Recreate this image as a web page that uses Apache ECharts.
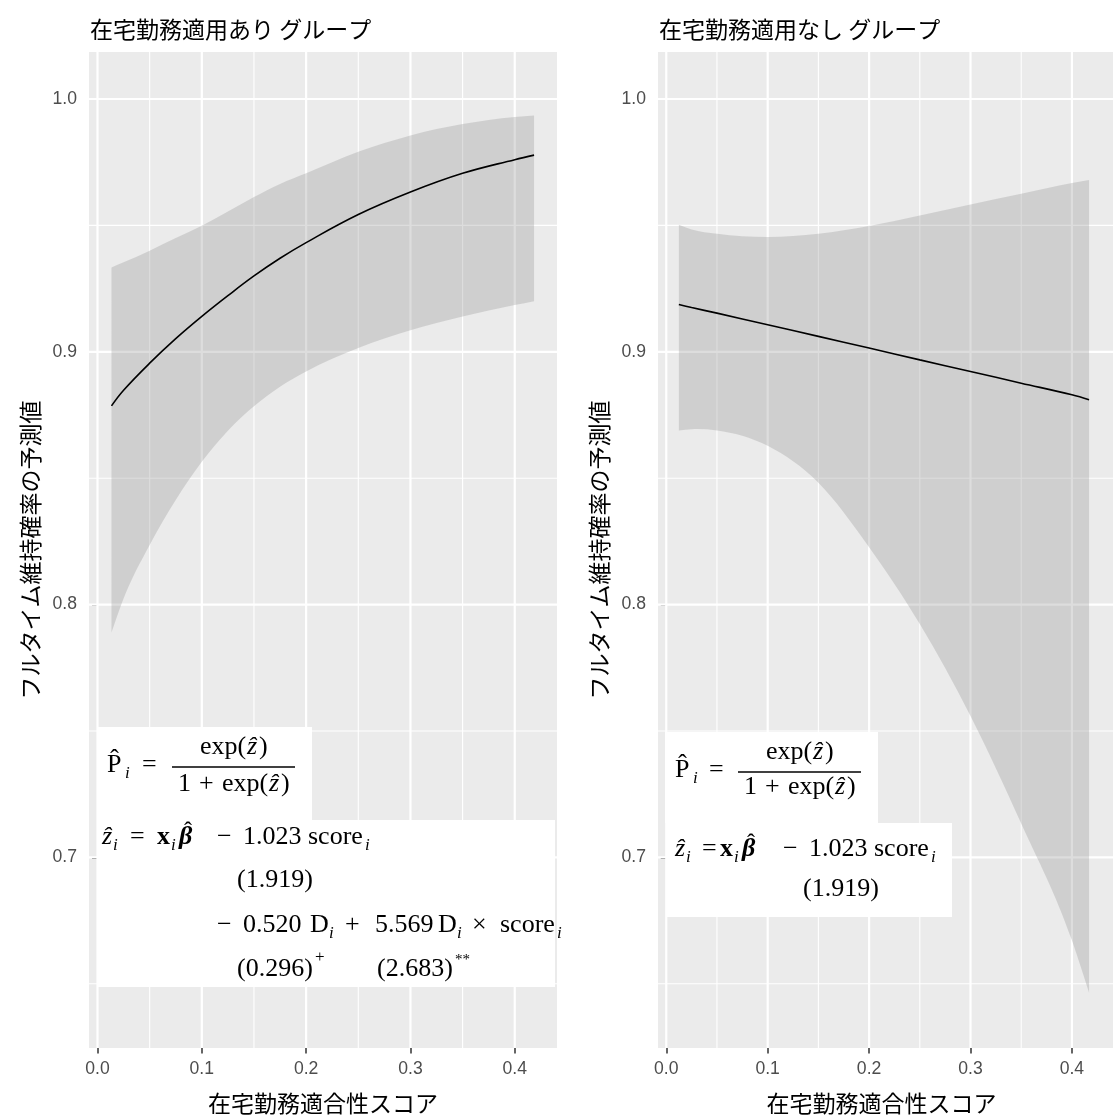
<!DOCTYPE html>
<html>
<head>
<meta charset="utf-8">
<script src="https://cdn.jsdelivr.net/npm/echarts@6/dist/echarts.min.js"></script>
<style>
html,body{margin:0;padding:0;background:#ffffff;}
#chart{width:1113px;height:1120px;}
</style>
</head>
<body>
<div id="chart"></div>
<script>
// ---------------- data ----------------
const panelTitles = ['在宅勤務適用あり グループ', '在宅勤務適用なし グループ'];
const xAxisTitle = '在宅勤務適合性スコア';
const yAxisTitle = 'フルタイム維持確率の予測値';

const xTicks = [0.0, 0.1, 0.2, 0.3, 0.4];
const xMinorTicks = [0.05, 0.15, 0.25, 0.35];
const yTicks = [0.7, 0.8, 0.9, 1.0];
const yMinorTicks = [0.65, 0.75, 0.85, 0.95];

// 在宅勤務適用あり
const scoreWith = [0.0134, 0.025, 0.05, 0.075, 0.1, 0.125, 0.15, 0.175, 0.2, 0.25, 0.3, 0.35, 0.4, 0.4185];
const fitWith   = [0.8786, 0.8848, 0.8955, 0.9052, 0.9140, 0.9222, 0.9300, 0.9370, 0.9432, 0.9543, 0.9632, 0.9706, 0.9760, 0.9778];
const upperWith = [0.9334, 0.9354, 0.9400, 0.9450, 0.9499, 0.9555, 0.9612, 0.9664, 0.9706, 0.9791, 0.9856, 0.9901, 0.9929, 0.9935];
const lowerWith = [0.7890, 0.8024, 0.8236, 0.8414, 0.8565, 0.8688, 0.8785, 0.8862, 0.8922, 0.9015, 0.9085, 0.9140, 0.9185, 0.9200];

// 在宅勤務適用なし
const scoreWithout = [0.0124, 0.025, 0.05, 0.1, 0.15, 0.2, 0.25, 0.3, 0.35, 0.4, 0.4169];
const fitWithout   = [0.9187, 0.9175, 0.9153, 0.9107, 0.9061, 0.9015, 0.8968, 0.8922, 0.8876, 0.8830, 0.8810];
const upperWithout = [0.9503, 0.9484, 0.9467, 0.9454, 0.9467, 0.9498, 0.9539, 0.9583, 0.9625, 0.9668, 0.9680];
const lowerWithout = [0.8689, 0.8694, 0.8689, 0.8628, 0.8482, 0.8227, 0.7923, 0.7559, 0.7134, 0.6672, 0.6465];

// ---------------- layout / style ----------------
const X_MIN = -0.00815, X_MAX = 0.4405;
const Y_MIN = 0.6246, Y_MAX = 1.0186;
const JP = '"Noto Sans CJK JP", "Noto Sans", sans-serif';
const SANS = '"Liberation Sans", Arial, sans-serif';
const MATH = '"Liberation Serif", "DejaVu Serif", serif';
const PANEL_BG = '#EBEBEB';
const RIBBON = 'rgba(153,153,153,0.33)';

const grids = [
  {left: 89, top: 52, width: 468, height: 998},
  {left: 658, top: 52, width: 468, height: 998}
];

function gridLineSeries(idx, vals, dir, width) {
  return {
    type: 'custom', xAxisIndex: idx, yAxisIndex: idx, z: 1, silent: true, animation: false,
    dimensions: ['v'],
    data: vals.map(v => [v]),
    encode: dir === 'v' ? {x: 0} : {y: 0},
    renderItem: function (params, api) {
      const cs = params.coordSys;
      if (dir === 'v') {
        const x = api.coord([api.value(0), Y_MIN])[0];
        return {type: 'line', shape: {x1: x, y1: cs.y, x2: x, y2: cs.y + cs.height},
                style: {stroke: '#ffffff', lineWidth: width}};
      }
      const y = api.coord([X_MIN, api.value(0)])[1];
      return {type: 'line', shape: {x1: cs.x, y1: y, x2: cs.x + cs.width, y2: y},
              style: {stroke: '#ffffff', lineWidth: width}};
    }
  };
}

// cubic Hermite (x-aware) -> bezier segments through pixel points
function smoothSegments(pts) {
  const n = pts.length, m = [];
  for (let i = 0; i < n; i++) {
    if (i === 0) m.push((pts[1][1] - pts[0][1]) / (pts[1][0] - pts[0][0]));
    else if (i === n - 1) m.push((pts[n - 1][1] - pts[n - 2][1]) / (pts[n - 1][0] - pts[n - 2][0]));
    else {
      const h0 = pts[i][0] - pts[i - 1][0], h1 = pts[i + 1][0] - pts[i][0];
      const d0 = (pts[i][1] - pts[i - 1][1]) / h0, d1 = (pts[i + 1][1] - pts[i][1]) / h1;
      m.push((d0 * h1 + d1 * h0) / (h0 + h1));
    }
  }
  let d = '';
  for (let i = 0; i < n - 1; i++) {
    const h = pts[i + 1][0] - pts[i][0];
    const c1x = pts[i][0] + h / 3, c1y = pts[i][1] + m[i] * h / 3;
    const c2x = pts[i + 1][0] - h / 3, c2y = pts[i + 1][1] - m[i + 1] * h / 3;
    d += ' C' + c1x + ' ' + c1y + ' ' + c2x + ' ' + c2y + ' ' + pts[i + 1][0] + ' ' + pts[i + 1][1];
  }
  return d;
}

function ribbonSeries(idx, score, lower, upper) {
  return {
    type: 'custom', xAxisIndex: idx, yAxisIndex: idx, z: 2, silent: true, animation: false,
    dimensions: ['score', 'lower', 'upper'],
    data: score.map((s, k) => [s, lower[k], upper[k]]),
    encode: {x: 0, y: [1, 2]},
    renderItem: function (params, api) {
      if (params.dataIndexInside !== 0) return null;
      const n = params.dataInsideLength || score.length;
      const up = [], lo = [];
      for (let k = 0; k < n; k++) {
        up.push(api.coord([api.value(0, k), api.value(2, k)]));
        lo.push(api.coord([api.value(0, k), api.value(1, k)]));
      }
      const loRev = lo.slice().reverse();
      const d = 'M' + up[0][0] + ' ' + up[0][1] + smoothSegments(up) +
                ' L' + loRev[0][0] + ' ' + loRev[0][1] + smoothSegments(loRev) + ' Z';
      return {type: 'path', shape: {pathData: d}, style: {fill: RIBBON}};
    }
  };
}

function panelSeries(idx, score, fit, upper, lower) {
  return [
    gridLineSeries(idx, xMinorTicks, 'v', 1.1),
    gridLineSeries(idx, yMinorTicks, 'h', 1.1),
    gridLineSeries(idx, xTicks, 'v', 2.2),
    gridLineSeries(idx, yTicks, 'h', 2.2),
    ribbonSeries(idx, score, lower, upper),
    {
      type: 'line', xAxisIndex: idx, yAxisIndex: idx, z: 3,
      data: score.map((s, k) => [s, fit[k]]),
      showSymbol: false, symbol: 'none', smooth: 0.4, silent: true, animation: false,
      lineStyle: {color: '#000000', width: 1.6}
    }
  ];
}

function xAxisCfg(idx) {
  return {
    type: 'value', gridIndex: idx, min: X_MIN, max: X_MAX,
    axisLine: {show: false},
    splitLine: {show: false},
    axisTick: {show: true, length: 5.5, customValues: xTicks, lineStyle: {color: '#333333', width: 1.5}},
    axisLabel: {customValues: xTicks, formatter: v => Number(v).toFixed(1), color: '#4D4D4D',
                fontSize: 17.6, fontFamily: SANS, margin: 12},
    name: xAxisTitle, nameLocation: 'middle', nameGap: 44,
    nameTextStyle: {fontSize: 23, color: '#000', fontFamily: JP, padding: idx === 1 ? [0, 8, 0, 0] : 0}
  };
}
function yAxisCfg(idx) {
  return {
    type: 'value', gridIndex: idx, min: Y_MIN, max: Y_MAX,
    axisLine: {show: false},
    splitLine: {show: false},
    axisTick: {show: true, length: 5.5, customValues: yTicks, lineStyle: {color: '#333333', width: 1.5}},
    axisLabel: {customValues: yTicks, formatter: v => Number(v).toFixed(1), color: '#4D4D4D',
                fontSize: 17.6, fontFamily: SANS, margin: 12},
    name: yAxisTitle, nameLocation: 'middle', nameGap: 47, nameRotate: 90,
    nameTextStyle: {fontSize: 23, color: '#000', fontFamily: JP}
  };
}

// ---------------- math annotations (graphic) ----------------
// x = left edge, b = text baseline
function txt(x, b, text, opt) {
  opt = opt || {};
  const size = opt.size || 26;
  return {
    type: 'text', x: x, y: b - 0.3 * size, z: 101, silent: true,
    style: {
      text: text, fill: '#000',
      font: (opt.italic ? 'italic ' : '') + (opt.bold ? 'bold ' : '') + size + 'px ' + MATH,
      align: 'left', verticalAlign: 'middle'
    }
  };
}
function rect(x, y, w, h) {
  return {type: 'rect', z: 100, silent: true, shape: {x: x, y: y, width: w, height: h}, style: {fill: '#ffffff'}};
}
function bar(x1, x2, y) {
  return {type: 'line', z: 101, silent: true, shape: {x1: x1, y1: y, x2: x2, y2: y}, style: {stroke: '#000', lineWidth: 1.3}};
}
const HAT = '\u0302';
const ZHAT = '\u1E91';
const SUB = {italic: true, size: 17};
const IT = {italic: true};

function fraction(px, b1, eqx, nx, nb, barx1, barx2, bary, dx, db) {
  return [
    txt(px, b1, 'P' + HAT), txt(px + 18, b1 + 6, 'i', SUB), txt(eqx, b1, '='),
    txt(nx, nb, 'exp('), txt(nx + 47, nb, ZHAT, IT), txt(nx + 59, nb, ')'),
    bar(barx1, barx2, bary),
    txt(dx, db, '1'), txt(dx + 21, db, '+'), txt(dx + 44, db, 'exp('), txt(dx + 91, db, ZHAT, IT), txt(dx + 103, db, ')')
  ];
}
function zline(x0, b, eqx, xx, mx) {
  return [
    txt(x0, b, ZHAT, IT), txt(x0 + 11, b + 6, 'i', SUB), txt(eqx, b, '='),
    txt(xx, b, 'x', {bold: true}), txt(xx + 14, b + 6, 'i', SUB),
    txt(xx + 22, b, '\u03B2', {italic: true, bold: true}), txt(xx + 27, b - 6, '\u02C6', {size: 24}),
    txt(mx, b, '\u2212'), txt(mx + 26, b, '1.023'), txt(mx + 91, b, 'score'), txt(mx + 148, b + 6, 'i', SUB)
  ];
}

const leftAnno = [rect(97, 727, 215, 93), rect(97, 820, 458, 167)]
  .concat(fraction(107, 773, 142, 200, 755, 172, 295, 767, 178, 792))
  .concat(zline(102, 845, 130, 157, 217))
  .concat([
    txt(237, 888, '(1.919)'),
    txt(217, 933, '\u2212'), txt(243, 933, '0.520'), txt(310, 933, 'D'), txt(329, 939, 'i', SUB),
    txt(345, 933, '+'), txt(375, 933, '5.569'), txt(438, 933, 'D'), txt(457, 939, 'i', SUB),
    txt(472, 933, '\u00D7'), txt(500, 933, 'score'), txt(557, 939, 'i', SUB),
    txt(237, 977, '(0.296)'), txt(315, 963, '+', {size: 17}),
    txt(377, 977, '(2.683)'), txt(455, 965, '**', {size: 15})
  ]);

const rightAnno = [rect(665, 732, 213, 91), rect(666, 823, 286, 94)]
  .concat(fraction(675, 778, 709, 766, 760, 738, 861, 772, 744, 795))
  .concat(zline(675, 857, 702, 720, 783))
  .concat([txt(803, 897, '(1.919)')]);

// ---------------- option ----------------
const chart = echarts.init(document.getElementById('chart'), null, {renderer: 'canvas'});
const option = {
  animation: false,
  backgroundColor: '#ffffff',
  title: [
    {text: panelTitles[0], left: 90, top: 18, padding: 0,
     textStyle: {fontSize: 23, fontWeight: 'normal', color: '#000', fontFamily: JP}},
    {text: panelTitles[1], left: 659, top: 18, padding: 0,
     textStyle: {fontSize: 23, fontWeight: 'normal', color: '#000', fontFamily: JP}}
  ],
  grid: grids.map(g => Object.assign({show: true, backgroundColor: PANEL_BG, borderWidth: 0, containLabel: false}, g)),
  xAxis: [xAxisCfg(0), xAxisCfg(1)],
  yAxis: [yAxisCfg(0), yAxisCfg(1)],
  series: [].concat(
    panelSeries(0, scoreWith, fitWith, upperWith, lowerWith),
    panelSeries(1, scoreWithout, fitWithout, upperWithout, lowerWithout)
  ),
  graphic: leftAnno.concat(rightAnno)
};
chart.setOption(option);
</script>
</body>
</html>
